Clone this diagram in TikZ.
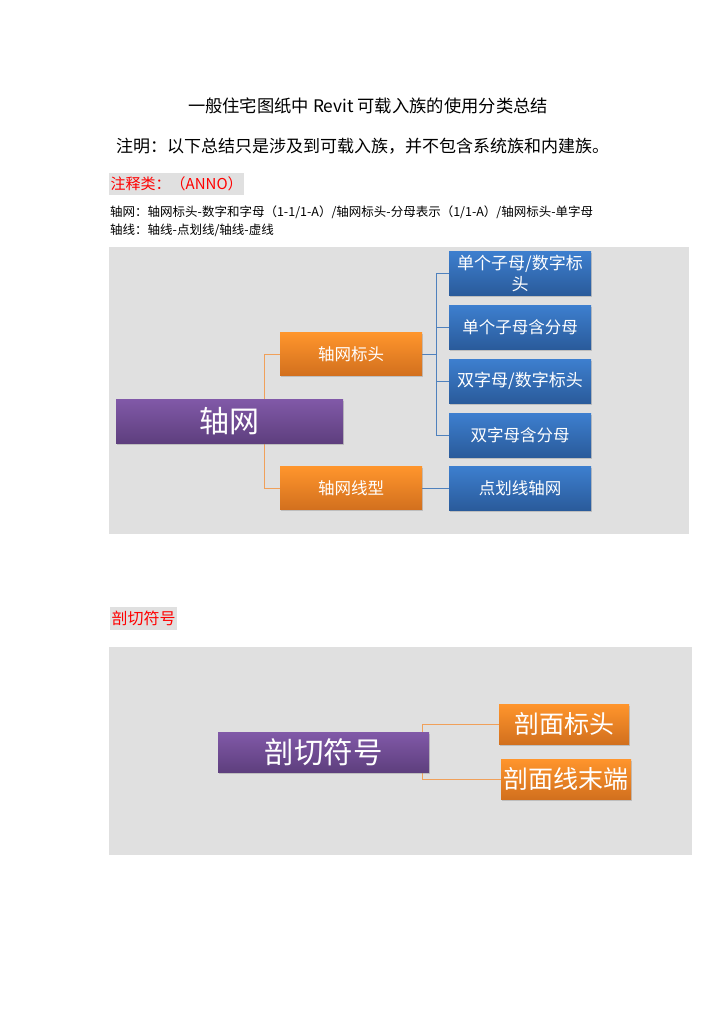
\documentclass[tikz,border=0pt]{standalone}
\usepackage{fontspec}
\setmainfont{Noto Sans CJK SC}
\usetikzlibrary{shadows}
\definecolor{padgray}{HTML}{E0E0E0}
\definecolor{purpletop}{HTML}{8159A8}
\definecolor{purplebot}{HTML}{5E3F7E}
\definecolor{orangetop}{HTML}{FF952C}
\definecolor{orangebot}{HTML}{D2701E}
\definecolor{bluetop}{HTML}{3D7FCF}
\definecolor{bluebot}{HTML}{2A5B9B}
\definecolor{orangeline}{HTML}{F0A05A}
\definecolor{blueline}{HTML}{4F81BD}
\pgfdeclarelayer{bg}
\pgfdeclarelayer{lines}
\pgfsetlayers{bg,lines,main}
\begin{document}
\begin{tikzpicture}[x=1pt,y=-1pt,
    box/.style={draw=none,text=white,inner sep=0pt,align=center,
      drop shadow={shadow xshift=0.6pt,shadow yshift=-1.6pt,opacity=0.35}},
    rootbox/.style={box,top color=purpletop,bottom color=purplebot,font=\fontsize{30}{32}\selectfont},
    midbox/.style={box,top color=orangetop,bottom color=orangebot,minimum width=142pt,minimum height=43pt,font=\fontsize{16.5}{20}\selectfont},
    leafbox/.style={box,top color=bluetop,bottom color=bluebot,minimum width=142pt,minimum height=44pt,font=\fontsize{16.5}{20}\selectfont},
    orangelink/.style={draw=orangeline,line width=0.9pt},
    bluelink/.style={draw=blueline,line width=0.9pt},
    tag/.style={fill=padgray,text=red,anchor=west,inner xsep=1.5pt,inner ysep=0pt}]
\useasboundingbox (0,0) rectangle (724,1024);
\node (title) at (368,106) {\fontsize{17.3}{19}\selectfont 一般住宅图纸中 Revit 可载入族的使用分类总结};
\node[anchor=west,inner sep=0pt] (note) at (116,146) {\fontsize{17}{19}\selectfont 注明：以下总结只是涉及到可载入族，并不包含系统族和内建族。};
\node[tag,minimum height=22pt] (annotag) at (109,184) {\fontsize{15}{17}\selectfont 注释类：（ANNO）};
\node[anchor=west,inner sep=0pt] (gridline) at (110,212) {\fontsize{12.5}{14}\selectfont 轴网：轴网标头-数字和字母（1-1/1-A）/轴网标头-分母表示（1/1-A）/轴网标头-单字母};
\node[anchor=west,inner sep=0pt] (axisline) at (110,230) {\fontsize{12.5}{14}\selectfont 轴线：轴线-点划线/轴线-虚线};
\begin{pgfonlayer}{bg}
  \fill[padgray] (109,247) rectangle (689,534);
  \fill[padgray] (109,647) rectangle (692,855);
\end{pgfonlayer}
\node[rootbox,minimum width=227pt,minimum height=44pt] (grid) at (229.5,421) {轴网};
\node[midbox] (head) at (351,354) {轴网标头};
\node[midbox] (type) at (351,488) {轴网线型};
\node[leafbox,font=\fontsize{17}{21}\selectfont] (b1) at (520,273) {单个子母/数字标\\头};
\node[leafbox] (b2) at (520,327) {单个子母含分母};
\node[leafbox,font=\fontsize{17}{21}\selectfont] (b3) at (520,381) {双字母/数字标头};
\node[leafbox] (b4) at (520,435) {双字母含分母};
\node[leafbox] (b5) at (520,488) {点划线轴网};
\coordinate (gj) at ([xshift=-15pt]head.west |- grid.north);
\coordinate (bj) at ([xshift=14pt]head.east);
\begin{pgfonlayer}{lines}
  \draw[orangelink] (gj) |- (head.west);
  \draw[orangelink] (gj |- grid.south) |- (type.west);
  \draw[bluelink] (head.east) -- (bj);
  \draw[bluelink] (bj |- b1.west) -- (bj |- b4.west);
  \foreach \b in {b1,b2,b3,b4} \draw[bluelink] (bj |- \b.west) -- (\b.west);
  \draw[bluelink] (type.east) -- (b5.west);
\end{pgfonlayer}
\node[tag,minimum height=23pt] (cuttag) at (110,618.5) {\fontsize{16}{18}\selectfont 剖切符号};
\node[rootbox,minimum width=211pt,minimum height=40pt,font=\fontsize{29.5}{31}\selectfont] (cut) at (323.5,752) {剖切符号};
\node[box,top color=orangetop,bottom color=orangebot,minimum width=130pt,minimum height=40pt,font=\fontsize{25}{27}\selectfont] (cuthead) at (564,724) {剖面标头};
\node[box,top color=orangetop,bottom color=orangebot,minimum width=130pt,minimum height=40pt,font=\fontsize{25}{27}\selectfont] (cutend) at (566,779) {剖面线末端};
\coordinate (cj) at ([xshift=-7pt]cut.east);
\begin{pgfonlayer}{lines}
  \draw[orangelink] (cj |- cuthead.west) -- (cuthead.west);
  \draw[orangelink] (cj |- cuthead.west) -- (cj |- cutend.west) -- (cutend.west);
\end{pgfonlayer}
\end{tikzpicture}
\end{document}
